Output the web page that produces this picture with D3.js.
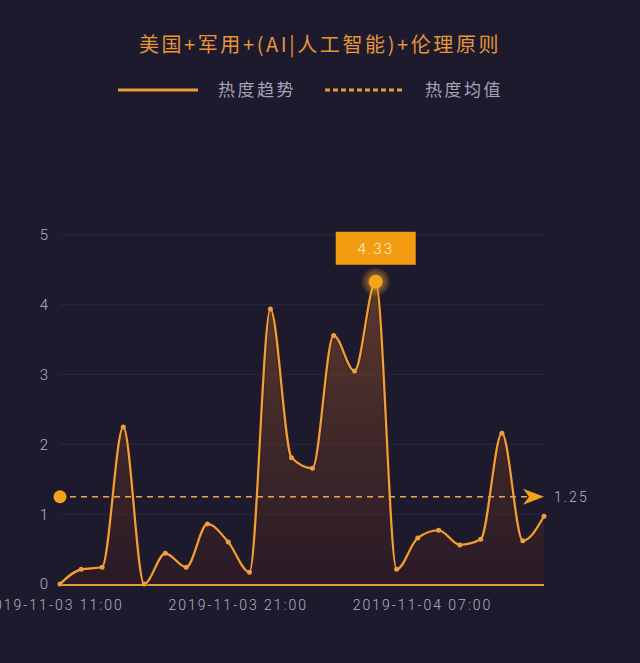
<!DOCTYPE html>
<html>
<head>
<meta charset="utf-8">
<script src="https://cdn.jsdelivr.net/npm/d3@7"></script>
<style>
  html, body { margin: 0; padding: 0; background: #1d1a2d; }
  svg { display: block; }
</style>
</head>
<body>
<script>
// chart data
var title = "美国+军用+(AI|人工智能)+伦理原则";
var legendNames = ["热度趋势", "热度均值"];
var times = [
  "2019-11-03 11:21", "2019-11-03 12:30", "2019-11-03 13:38", "2019-11-03 14:47",
  "2019-11-03 15:55", "2019-11-03 17:04", "2019-11-03 18:12", "2019-11-03 19:21",
  "2019-11-03 20:29", "2019-11-03 21:38", "2019-11-03 22:46", "2019-11-03 23:55",
  "2019-11-04 01:03", "2019-11-04 02:12", "2019-11-04 03:20", "2019-11-04 04:29",
  "2019-11-04 05:37", "2019-11-04 06:46", "2019-11-04 07:54", "2019-11-04 09:03",
  "2019-11-04 10:11", "2019-11-04 11:20", "2019-11-04 12:28", "2019-11-04 13:37"
];
var values = [0, 0.21, 0.24, 2.25, 0, 0.44, 0.24, 0.86, 0.6, 0.17, 3.94, 1.81,
              1.66, 3.56, 3.05, 4.33, 0.21, 0.66, 0.77, 0.56, 0.64, 2.16, 0.62, 0.97];
var meanValue = 1.25;
var xTicks = ["2019-11-03 11:00", "2019-11-03 21:00", "2019-11-04 07:00"];
var yTicks = [0, 1, 2, 3, 4, 5];

var width = 640, height = 663;
var margin = {top: 235, right: 96, bottom: 79, left: 60};
var parse = d3.timeParse("%Y-%m-%d %H:%M");
var fmt = d3.timeFormat("%Y-%m-%d %H:%M");

var data = times.map(function(t, i){ return {t: parse(t), v: values[i]}; });

var svg = d3.select("body").append("svg")
    .attr("width", width)
    .attr("height", height);

svg.append("rect").attr("width", width).attr("height", height).attr("fill", "#1d1a2d");

var x = d3.scaleTime()
    .domain([data[0].t, data[data.length - 1].t])
    .range([margin.left, width - margin.right]);
var y = d3.scaleLinear()
    .domain([0, 5])
    .range([height - margin.bottom, margin.top]);

// defs
var defs = svg.append("defs");
var grad = defs.append("linearGradient").attr("id", "areaGrad")
    .attr("x1", 0).attr("y1", 0).attr("x2", 0).attr("y2", 1);
grad.append("stop").attr("offset", "0%").attr("stop-color", "#c0702a").attr("stop-opacity", 0.38);
grad.append("stop").attr("offset", "100%").attr("stop-color", "#4a1a18").attr("stop-opacity", 0.3);
var glow = defs.append("radialGradient").attr("id", "glow");
glow.append("stop").attr("offset", "40%").attr("stop-color", "#f5a623").attr("stop-opacity", 0.9);
glow.append("stop").attr("offset", "100%").attr("stop-color", "#f5a623").attr("stop-opacity", 0.15);

// title
svg.append("text")
    .attr("x", 320).attr("y", 52)
    .attr("text-anchor", "middle")
    .style("font-family", "'Noto Sans CJK SC'")
    .style("font-size", "20px")
    .style("letter-spacing", "2.6px")
    .attr("fill", "#e5953a")
    .text(title);

// legend
var lg = svg.append("g").attr("transform", "translate(0,90)");
lg.append("line").attr("x1", 118).attr("x2", 198).attr("y1", 0).attr("y2", 0)
    .attr("stroke", "#eb9a3a").attr("stroke-width", 3);
lg.append("text").attr("x", 218).attr("y", 6).text(legendNames[0]);
lg.append("line").attr("x1", 325).attr("x2", 405).attr("y1", 0).attr("y2", 0)
    .attr("stroke", "#eb9a3a").attr("stroke-width", 3).attr("stroke-dasharray", "5,3");
lg.append("text").attr("x", 425).attr("y", 6).text(legendNames[1]);
lg.selectAll("text")
    .style("font-family", "'Noto Sans CJK SC'")
    .style("font-size", "17px")
    .style("letter-spacing", "2.5px")
    .attr("fill", "#a4a3b6");

// grid
svg.append("g").selectAll("line")
    .data(yTicks.slice(1)).enter().append("line")
    .attr("x1", margin.left).attr("x2", width - margin.right)
    .attr("y1", function(d){ return y(d); }).attr("y2", function(d){ return y(d); })
    .attr("stroke", "#2a283f").attr("stroke-width", 1);

// y axis labels
var yAxis = svg.append("g")
    .attr("transform", "translate(" + (margin.left - 12) + ",0)")
    .call(d3.axisLeft(y).tickValues(yTicks).tickSize(0).tickPadding(0).tickFormat(d3.format("d")));
yAxis.select(".domain").remove();
yAxis.selectAll("text")
    .style("font-family", "Roboto").style("font-size", "15px").style("font-weight", 300)
    .attr("fill", "#b3b2c0");

// x axis
var xAxis = svg.append("g")
    .attr("transform", "translate(0," + y(0) + ")")
    .call(d3.axisBottom(x).tickValues(xTicks.map(parse)).tickSize(0).tickPadding(16).tickFormat(fmt));
xAxis.select(".domain").remove();
xAxis.selectAll("text")
    .style("font-family", "Roboto").style("font-size", "14px").style("font-weight", 300)
    .style("letter-spacing", "2px")
    .attr("fill", "#b3b2c0");

// area + line
var area = d3.area().curve(d3.curveMonotoneX)
    .x(function(d){ return x(d.t); })
    .y0(y(0))
    .y1(function(d){ return y(d.v); });
var line = d3.line().curve(d3.curveMonotoneX)
    .x(function(d){ return x(d.t); })
    .y(function(d){ return y(d.v); });

svg.append("path").datum(data).attr("d", area).attr("fill", "url(#areaGrad)");

// baseline
svg.append("line")
    .attr("x1", margin.left).attr("x2", width - margin.right)
    .attr("y1", y(0) + 1).attr("y2", y(0) + 1)
    .attr("stroke", "#e79a3a").attr("stroke-width", 2);

svg.append("path").datum(data).attr("d", line)
    .attr("fill", "none").attr("stroke", "#3a1c10").attr("stroke-width", 4.5).attr("stroke-opacity", 0.6);
svg.append("path").datum(data).attr("d", line)
    .attr("fill", "none").attr("stroke", "#efa03a").attr("stroke-width", 2.2);

// points
svg.append("g").selectAll("circle")
    .data(data).enter().append("circle")
    .attr("cx", function(d){ return x(d.t); })
    .attr("cy", function(d){ return y(d.v); })
    .attr("r", 2.5)
    .attr("fill", "#e8a040");

// mean line
var my = y(meanValue);
svg.append("line")
    .attr("x1", margin.left + 10).attr("x2", x(data[data.length - 1].t) - 8)
    .attr("y1", my).attr("y2", my)
    .attr("stroke", "#eba54a").attr("stroke-width", 1.6).attr("stroke-dasharray", "6,5");
svg.append("circle").attr("cx", margin.left).attr("cy", my).attr("r", 6.5).attr("fill", "#f5a21c");
var ax = x(data[data.length - 1].t);
svg.append("path")
    .attr("d", "M" + ax + "," + my + " L" + (ax - 21) + "," + (my - 8) + " L" + (ax - 15) + "," + my +
          " L" + (ax - 21) + "," + (my + 8) + " Z")
    .attr("fill", "#f5a21c");
svg.append("text")
    .attr("x", ax + 10).attr("y", my + 5)
    .style("font-family", "Roboto").style("font-size", "14px").style("font-weight", 300)
    .style("letter-spacing", "2px")
    .attr("fill", "#b3b2c0")
    .text(d3.format(".2f")(meanValue));

// max marker
var maxD = data[d3.maxIndex(data, function(d){ return d.v; })];
var mx = x(maxD.t), myy = y(maxD.v);
svg.append("circle").attr("cx", mx).attr("cy", myy).attr("r", 14).attr("fill", "url(#glow)").attr("opacity", 0.6);
svg.append("circle").attr("cx", mx).attr("cy", myy).attr("r", 7).attr("fill", "#f5a21c");
svg.append("rect")
    .attr("x", mx - 40).attr("y", myy - 50).attr("width", 80).attr("height", 33)
    .attr("fill", "#f39c12");
svg.append("text")
    .attr("x", mx).attr("y", myy - 28)
    .attr("text-anchor", "middle")
    .style("font-family", "Roboto").style("font-size", "15px").style("font-weight", 300)
    .style("letter-spacing", "2px")
    .attr("fill", "#fff3dc")
    .text(maxD.v.toFixed(2));
</script>
</body>
</html>
